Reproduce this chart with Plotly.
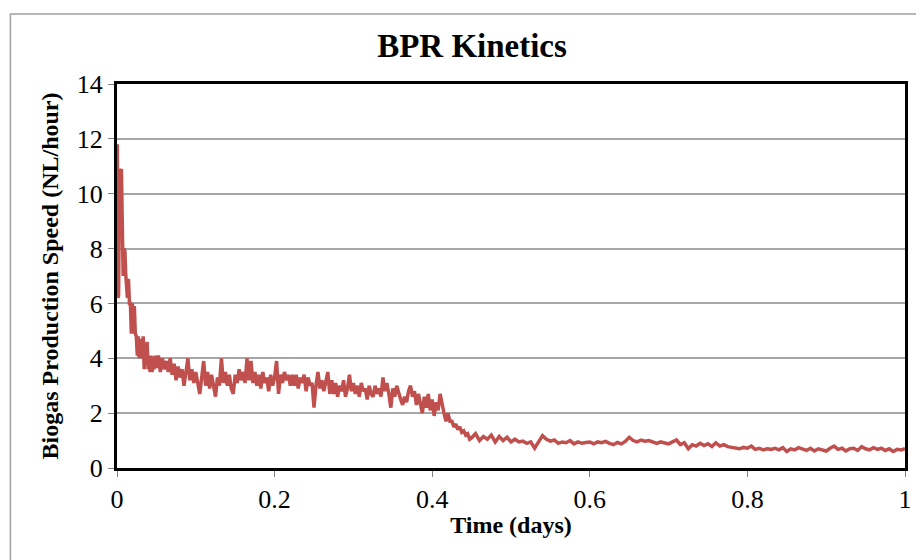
import plotly.graph_objects as go

# ---- data ----
# early spike region (explicit times, days)
t_early = [0.000, 0.0004, 0.0012, 0.0020, 0.0032, 0.0044, 0.0056, 0.0068, 0.0078, 0.0090,
           0.0100, 0.0110, 0.0120, 0.0132, 0.0145, 0.0158, 0.0170, 0.0182, 0.0195, 0.0208,
           0.0220, 0.0232, 0.0245, 0.0258, 0.0270, 0.0282, 0.0295, 0.0308, 0.0320, 0.0332,
           0.0345, 0.0358, 0.0370, 0.0382, 0.0395, 0.0408, 0.0420, 0.0432, 0.0445, 0.0458,
           0.0470, 0.0482, 0.0495]
v_early = [11.5, 11.8, 6.2, 6.3, 10.9, 10.8, 10.9, 8.0, 7.0, 8.0,
           7.9, 7.1, 6.8, 6.2, 6.9, 6.0, 6.0, 4.9, 6.0, 4.9,
           5.9, 4.9, 4.8, 4.1, 4.8, 4.0, 4.6, 4.7, 4.0, 4.8,
           3.6, 4.5, 4.1, 4.6, 3.6, 3.9, 3.5, 4.1, 3.5, 4.0,
           3.6, 4.1, 3.7]

# plateau region: samples every 0.0025 day from 0.05
mid_start, mid_step = 0.05, 0.0025
v_mid = [3.7, 4.1, 3.5, 4.0, 3.6, 3.9, 3.5, 4.0, 3.4, 3.8,
         3.2, 3.7, 3.3, 3.6, 3.0, 3.5, 4.0, 3.2, 3.6, 3.1,
         3.5, 3.1, 2.7, 3.3, 3.9, 3.0, 3.5, 2.9, 3.4, 3.0,
         2.6, 3.3, 3.0, 4.0, 3.1, 3.5, 3.0, 3.4, 2.9, 2.7,
         3.4, 3.1, 3.6, 3.2, 3.5, 3.1, 4.0, 3.2, 3.9, 3.1,
         3.5, 3.0, 3.4, 2.9, 3.5, 3.1, 3.3, 2.8, 3.4, 3.0,
         3.3, 3.9, 2.7, 3.4, 3.1, 3.5, 3.2, 3.4, 3.0, 3.4,
         3.0, 3.4, 2.9, 3.3, 3.1, 3.4, 2.8, 3.3, 3.0, 3.1,
         2.2, 3.0, 3.5, 2.9, 3.2, 2.8, 3.1, 3.5, 2.7, 3.2,
         2.7, 3.1, 2.6, 3.0, 2.8, 3.2, 2.6, 2.9, 3.4, 2.8,
         3.1, 2.7, 3.0, 2.6, 3.1, 2.8, 2.9, 2.5, 3.0, 2.7,
         2.6, 3.0, 2.7, 2.9, 2.6, 3.3, 2.8, 3.1, 2.7, 2.2,
         2.9, 2.6, 3.0, 2.7, 2.5, 2.3, 2.6, 2.4, 2.8, 3.0,
         2.6, 2.8, 2.3, 2.7, 2.4, 2.0, 2.6, 2.2, 2.7, 2.1,
         2.5, 1.9, 2.4, 2.1, 2.7, 2.3, 2.0, 1.7, 2.0, 1.7,
         1.7, 1.5, 1.6, 1.4, 1.5, 1.3, 1.35, 1.2, 1.25, 1.05]

# tail region: samples every 0.005 day from 0.45
tail_start, tail_step = 0.45, 0.005
v_tail = [1.1, 1.25, 1.0, 1.15, 1.05, 1.2, 0.95, 1.15, 1.0, 1.12,
          0.95, 1.05, 0.95, 0.98, 0.9, 0.95, 0.72, 0.95, 1.18, 1.05,
          0.98, 1.02, 0.9, 0.95, 0.92, 1.0, 0.88, 0.95, 0.9, 0.93,
          0.95, 0.88, 0.95, 0.92, 0.97, 0.9, 0.85, 0.93, 0.88, 0.97,
          1.12, 1.0, 0.95, 1.02, 0.98, 1.0, 0.95, 0.9, 0.95, 0.92,
          0.88, 0.95, 1.02, 0.85, 0.92, 0.7, 0.85, 0.8, 0.9, 0.82,
          0.88, 0.78, 0.92, 0.8, 0.85, 0.78, 0.76, 0.72, 0.7, 0.75,
          0.72, 0.8, 0.68, 0.72, 0.66, 0.7, 0.68, 0.72, 0.66, 0.74,
          0.6, 0.7, 0.66, 0.74, 0.7, 0.64, 0.72, 0.62, 0.7, 0.66,
          0.62, 0.72, 0.8, 0.68, 0.72, 0.62, 0.7, 0.72, 0.64, 0.78,
          0.7, 0.66, 0.74, 0.68, 0.72, 0.64, 0.7, 0.6, 0.68, 0.66,
          0.7]

x_ticks = [0, 0.2, 0.4, 0.6, 0.8, 1]
x_tick_labels = ["0", "0.2", "0.4", "0.6", "0.8", "1"]
y_ticks = [0, 2, 4, 6, 8, 10, 12, 14]

t_mid = [round(mid_start + mid_step * i, 4) for i in range(len(v_mid))]
t_tail = [round(tail_start + tail_step * i, 4) for i in range(len(v_tail))]
t_all = t_early + t_mid + t_tail
v_all = v_early + v_mid + v_tail

SERIF = "Liberation Serif, Times New Roman, serif"
W, H = 916, 552  # page body has an 8px margin

fig = go.Figure()
fig.add_trace(go.Scatter(x=t_all, y=v_all, mode="lines",
                         line=dict(color="#C0504D", width=3.5), showlegend=False))

fig.update_layout(
    width=W, height=H,
    margin=dict(l=109, r=16, t=76, b=92),
    paper_bgcolor="white", plot_bgcolor="white",
    title=dict(text="<b>BPR Kinetics</b>", x=464/W, xref="container", xanchor="center",
               y=1 - 37/H, yref="container", yanchor="middle",
               font=dict(family=SERIF, size=33, color="black")),
    font=dict(family=SERIF, color="black"),
    xaxis=dict(range=[0, 1], tickvals=x_ticks, ticktext=x_tick_labels,
               showgrid=False, zeroline=False,
               showline=True, linecolor="black", linewidth=3, mirror=True,
               ticks="outside", ticklen=6, tickcolor="#808080", tickwidth=1,
               tickfont=dict(family=SERIF, size=26),
               title=dict(text="<b>Time (days)</b>", font=dict(family=SERIF, size=24), standoff=3)),
    yaxis=dict(range=[0, 14], tickvals=y_ticks,
               showgrid=True, gridcolor="#A6A6A6", gridwidth=1.5, zeroline=False,
               showline=True, linecolor="black", linewidth=3, mirror=True,
               ticks="outside", ticklen=6, tickcolor="#808080", tickwidth=1,
               tickfont=dict(family=SERIF, size=26),
               title=dict(text="<b>Biogas Production Speed (NL/hour)</b>",
                          font=dict(family=SERIF, size=24), standoff=12)),
    shapes=[dict(type="rect", xref="paper", yref="paper",
                 x0=(10 - 117) / 791, x1=1.2, y0=-0.4, y1=(468 - 14) / 384,
                 line=dict(color="#A0A0A0", width=1.5), fillcolor="rgba(0,0,0,0)",
                 layer="below")],
)

fig.write_html("out.html")
